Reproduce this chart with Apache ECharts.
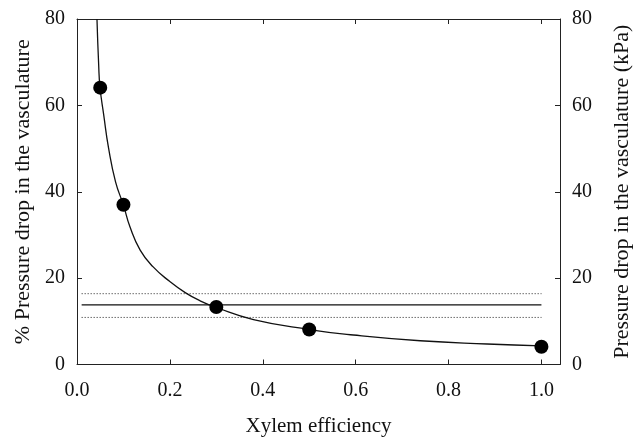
<!DOCTYPE html>
<html>
<head>
<meta charset="utf-8">
<script src="https://cdn.jsdelivr.net/npm/echarts@6/dist/echarts.min.js"></script>
<style>html,body{margin:0;padding:0;background:#fff}#c{width:633px;height:438px}</style>
</head>
<body>
<div id="c"></div>
<script>
// Data
var pointX = [0.05, 0.10, 0.30, 0.50, 1.00];
var pointY = [64.1, 37.0, 13.3, 8.1, 4.1];
var curveX = [0.043, 0.0467, 0.0495, 0.0575, 0.068, 0.083, 0.100, 0.114, 0.136, 0.164, 0.200, 0.233, 0.265, 0.300, 0.380, 0.500, 0.595, 0.739, 0.883, 1.000];
var curveY = [80.0, 69.3, 64.2, 57.8, 50.1, 42.3, 36.9, 31.9, 26.5, 22.6, 19.2, 16.65, 14.75, 13.2, 10.4, 8.1, 6.83, 5.5, 4.75, 4.3];
var meanLevel = 13.8;
var upperLevel = 16.4;
var lowerLevel = 10.9;
var lineStartX = 0.01, lineEndX = 1.0;
var xTicks = [0.0, 0.2, 0.4, 0.6, 0.8, 1.0];

var font = 'Liberation Serif';
var chart = echarts.init(document.getElementById('c'));
function pairs(xs, ys){ return xs.map(function(x,i){return [x, ys[i]];}); }
function hline(v){ return [[lineStartX, v],[lineEndX, v]]; }
var axisLineStyle = {color:'#222', width:1};
chart.setOption({
  animation:false,
  backgroundColor:'#fff',
  grid:{left:77, right:73, top:19, bottom:73.5, containLabel:false, outerBoundsMode:'none'},
  xAxis:[{
    type:'value', min:0, max:1.04, position:'bottom',
    name:'Xylem efficiency', nameLocation:'middle', nameGap:51,
    nameTextStyle:{fontFamily:font, fontSize:21, color:'#111'},
    axisLine:{show:true, onZero:false, lineStyle:axisLineStyle},
    axisTick:{show:true, inside:true, length:5, lineStyle:axisLineStyle, customValues:xTicks},
    axisLabel:{fontFamily:font, fontSize:20, color:'#111', margin:16, customValues:xTicks,
      formatter:function(v){return v.toFixed(1);}},
    splitLine:{show:false}
  },{
    type:'value', min:0, max:1.04, position:'top',
    axisLine:{show:true, onZero:false, lineStyle:axisLineStyle},
    axisTick:{show:true, inside:true, length:5, lineStyle:axisLineStyle, customValues:xTicks},
    axisLabel:{show:false}, splitLine:{show:false}
  }],
  yAxis:[{
    type:'value', min:0, max:80, interval:20, position:'left',
    name:'% Pressure drop in the vasculature', nameLocation:'middle', nameGap:43,
    nameTextStyle:{fontFamily:font, fontSize:22, color:'#111'},
    axisLine:{show:true, onZero:false, lineStyle:axisLineStyle},
    axisTick:{show:true, inside:true, length:5, lineStyle:axisLineStyle},
    axisLabel:{fontFamily:font, fontSize:20, color:'#111', margin:12},
    splitLine:{show:false}
  },{
    type:'value', min:0, max:80, interval:20, position:'right',
    name:'Pressure drop in the vasculature (kPa)', nameLocation:'middle', nameGap:51,
    nameRotate:90,
    nameTextStyle:{fontFamily:font, fontSize:22, color:'#111'},
    axisLine:{show:true, onZero:false, lineStyle:axisLineStyle},
    axisTick:{show:true, inside:true, length:5, lineStyle:axisLineStyle},
    axisLabel:{fontFamily:font, fontSize:20, color:'#111', margin:12},
    splitLine:{show:false}
  }],
  series:[
    {type:'line', data:hline(meanLevel), symbol:'none', lineStyle:{color:'#111', width:1.2}, silent:true},
    {type:'line', data:hline(upperLevel), symbol:'none', lineStyle:{color:'#222', width:1, type:[1,2]}, silent:true},
    {type:'line', data:hline(lowerLevel), symbol:'none', lineStyle:{color:'#222', width:1, type:[1,2]}, silent:true},
    {type:'line', data:pairs(curveX, curveY), symbol:'none', smooth:0.5, lineStyle:{color:'#111', width:1.3}, clip:true},
    {type:'scatter', data:pairs(pointX, pointY), symbol:'circle', symbolSize:14, itemStyle:{color:'#000', opacity:1}, z:5}
  ]
});
</script>
</body>
</html>
